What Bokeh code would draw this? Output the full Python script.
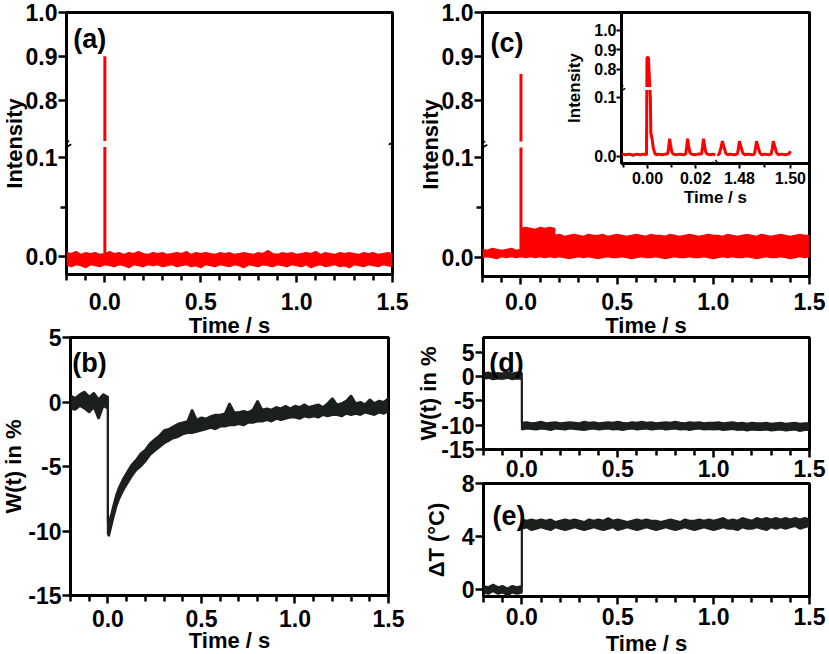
import numpy as np
from bokeh.plotting import figure
from bokeh.models import (Range1d, FixedTicker, Label, PrintfTickFormatter,
                          CustomJSTickFormatter)
from bokeh.layouts import column
from bokeh.embed import file_html
from bokeh.resources import INLINE

FONT = "Liberation Sans"
RED = "#ff0000"
INK = "#1b201d"

# ---------------------------------------------------------------- data
# (a) emission intensity, single pulse: noise envelope and the pulse itself
time_a = [
    -0.200, -0.175, -0.150, -0.125, -0.100, -0.075, -0.050, -0.025, 0.000, 0.025,
    0.050, 0.075, 0.100, 0.125, 0.150, 0.175, 0.200, 0.225, 0.250, 0.275,
    0.300, 0.325, 0.350, 0.375, 0.400, 0.425, 0.450, 0.475, 0.500, 0.525,
    0.550, 0.575, 0.600, 0.625, 0.650, 0.675, 0.700, 0.725, 0.750, 0.775,
    0.800, 0.825, 0.850, 0.875, 0.900, 0.925, 0.950, 0.975, 1.000, 1.025,
    1.050, 1.075, 1.100, 1.125, 1.150, 1.175, 1.200, 1.225, 1.250, 1.275,
    1.300, 1.325, 1.350, 1.375, 1.400, 1.425, 1.450, 1.475, 1.500,
]
int_a_hi = [
    0.004, 0.003, 0.005, 0.002, 0.004, 0.003, 0.004, 0.002, 0.003, 0.005,
    0.003, 0.004, 0.002, 0.004, 0.003, 0.005, 0.003, 0.002, 0.004, 0.003,
    0.004, 0.002, 0.003, 0.004, 0.003, 0.005, 0.002, 0.004, 0.003, 0.004,
    0.003, 0.002, 0.004, 0.003, 0.004, 0.002, 0.003, 0.004, 0.003, 0.002,
    0.004, 0.003, 0.006, 0.003, 0.002, 0.004, 0.003, 0.004, 0.002, 0.003,
    0.004, 0.003, 0.005, 0.002, 0.004, 0.003, 0.002, 0.004, 0.003, 0.004,
    0.003, 0.002, 0.004, 0.003, 0.004, 0.002, 0.003, 0.004, 0.003,
]
int_a_lo = [
    -0.008, -0.010, -0.008, -0.009, -0.011, -0.008, -0.009, -0.010, -0.008, -0.009,
    -0.010, -0.008, -0.009, -0.011, -0.008, -0.009, -0.010, -0.008, -0.009, -0.008,
    -0.010, -0.009, -0.008, -0.010, -0.009, -0.008, -0.010, -0.009, -0.011, -0.008,
    -0.009, -0.010, -0.008, -0.009, -0.010, -0.008, -0.009, -0.011, -0.008, -0.009,
    -0.010, -0.008, -0.009, -0.010, -0.008, -0.009, -0.010, -0.008, -0.009, -0.010,
    -0.008, -0.011, -0.009, -0.008, -0.010, -0.009, -0.008, -0.010, -0.009, -0.011,
    -0.008, -0.009, -0.010, -0.008, -0.009, -0.010, -0.008, -0.009, -0.010,
]
pulse_a_t = [0.0, 0.0]
pulse_a_y = [0.003, 0.90]

# (c) emission intensity, pulse train: envelope before, during and after the burst
time_c = [
    -0.200, -0.175, -0.150, -0.125, -0.100, -0.075, -0.050, -0.025, 0.000,
    0.000, 0.025, 0.050, 0.075, 0.100, 0.125, 0.150, 0.175,
    0.175, 0.200, 0.225, 0.250, 0.275,
    0.300, 0.325, 0.350, 0.375, 0.400, 0.425, 0.450, 0.475, 0.500, 0.525, 0.550, 0.575,
    0.600, 0.625, 0.650, 0.675, 0.700, 0.725, 0.750, 0.775, 0.800, 0.825, 0.850, 0.875,
    0.900, 0.925, 0.950, 0.975, 1.000, 1.025, 1.050, 1.075, 1.100, 1.125, 1.150, 1.175,
    1.200, 1.225, 1.250, 1.275, 1.300, 1.325, 1.350, 1.375, 1.400, 1.425, 1.450, 1.475,
    1.500,
]
int_c_hi = [
    0.008, 0.007, 0.009, 0.008, 0.007, 0.008, 0.009, 0.007, 0.008,
    0.029, 0.030, 0.029, 0.028, 0.030, 0.029, 0.030, 0.029,
    0.022, 0.023, 0.021, 0.022, 0.023,
    0.022, 0.021, 0.023, 0.022, 0.022, 0.023, 0.021, 0.022, 0.023, 0.022, 0.021, 0.022,
    0.023, 0.022, 0.021, 0.023, 0.022, 0.022, 0.021, 0.023, 0.022, 0.021, 0.022, 0.023,
    0.022, 0.021, 0.022, 0.023, 0.022, 0.022, 0.021, 0.023, 0.022, 0.021, 0.022, 0.023,
    0.022, 0.021, 0.023, 0.022, 0.021, 0.022, 0.023, 0.022, 0.021, 0.022, 0.023, 0.022,
    0.022,
]
int_c_lo = [
    0.000, 0.001, 0.000, -0.001, 0.001, 0.000, 0.001, 0.000, 0.001,
    0.001, 0.000, 0.001, 0.000, 0.001, 0.000, 0.001, 0.000,
    0.000, 0.001, 0.000, -0.001, 0.000,
    0.001, 0.000, 0.001, 0.000, -0.001, 0.000, 0.001, 0.000, 0.000, 0.001, 0.000, -0.001,
    0.000, 0.001, 0.000, 0.000, 0.001, 0.000, -0.001, 0.000, 0.001, 0.000, 0.000, 0.001,
    0.000, 0.000, 0.001, 0.000, -0.001, 0.000, 0.001, 0.000, 0.001, 0.000, 0.000, 0.001,
    0.000, -0.001, 0.000, 0.001, 0.000, 0.000, 0.001, 0.000, -0.001, 0.000, 0.001, 0.000,
    0.001,
]
pulse_c_t = [0.0, 0.0]
pulse_c_y = [0.008, 0.86]

# inset of (c): first and last milliseconds of the train
inset_t_start = [
    -0.0105, -0.0090, -0.0075, -0.0060, -0.0045, -0.0030, -0.0015, -0.0004, -0.0002, 0.0004,
    0.0012, 0.0014, 0.0019, 0.0024, 0.0030, 0.0036, 0.0045, 0.0060, 0.0075, 0.0084,
    0.0088, 0.0092, 0.0096, 0.0101, 0.0107, 0.0120, 0.0135, 0.0150, 0.0159, 0.0163,
    0.0167, 0.0171, 0.0176, 0.0182, 0.0195, 0.0210, 0.0225, 0.0229, 0.0233, 0.0237,
    0.0242, 0.0248, 0.0260, 0.0272, 0.0282,
]
inset_y_start = [
    0.004, 0.003, 0.004, 0.002, 0.004, 0.003, 0.004, 0.003, 0.860, 0.860,
    0.100, 0.040, 0.030, 0.015, 0.006, 0.003, 0.004, 0.003, 0.004, 0.004,
    0.015, 0.030, 0.020, 0.008, 0.004, 0.003, 0.004, 0.003, 0.004, 0.016,
    0.030, 0.019, 0.007, 0.004, 0.003, 0.004, 0.004, 0.016, 0.030, 0.020,
    0.008, 0.004, 0.003, 0.004, 0.003,
]
inset_t_end = [
    1.4713, 1.4720, 1.4727, 1.4733, 1.4739, 1.4746, 1.4753, 1.4765, 1.4780, 1.4792,
    1.4796, 1.4800, 1.4806, 1.4813, 1.4820, 1.4835, 1.4850, 1.4859, 1.4863, 1.4867,
    1.4873, 1.4880, 1.4887, 1.4900, 1.4915, 1.4925, 1.4929, 1.4933, 1.4939, 1.4946,
    1.4953, 1.4965, 1.4980, 1.4992, 1.4997, 1.5000,
]
inset_y_end = [
    0.004, 0.003, 0.014, 0.026, 0.016, 0.006, 0.003, 0.004, 0.003, 0.004,
    0.014, 0.026, 0.016, 0.006, 0.003, 0.004, 0.003, 0.004, 0.014, 0.026,
    0.016, 0.006, 0.003, 0.004, 0.003, 0.004, 0.014, 0.026, 0.016, 0.006,
    0.003, 0.004, 0.003, 0.004, 0.006, 0.009,
]

# (b) W(t) after a single pulse: upper / lower edge of the noisy trace
time_b = [
    -0.200, -0.175, -0.150, -0.125, -0.100, -0.075, -0.050, -0.025, 0.000,
    0.000, 0.005, 0.010, 0.020, 0.030, 0.045, 0.060, 0.080,
    0.100, 0.125, 0.150, 0.175, 0.200, 0.225, 0.250, 0.275, 0.300, 0.325, 0.350, 0.375,
    0.400, 0.425, 0.450, 0.475, 0.500, 0.525, 0.550, 0.575, 0.600, 0.625, 0.650, 0.675,
    0.700, 0.725, 0.750, 0.775, 0.800, 0.825, 0.850, 0.875, 0.900, 0.925, 0.950, 0.975,
    1.000, 1.025, 1.050, 1.075, 1.100, 1.125, 1.150, 1.175, 1.200, 1.225, 1.250, 1.275,
    1.300, 1.325, 1.350, 1.375, 1.400, 1.425, 1.450, 1.475, 1.500,
]
w_b_hi = [
    0.5, 0.3, 0.6, 0.8, 0.4, 0.7, 0.2, 0.6, 0.4,
    -9.3, -9.5, -9.1, -8.6, -8.0, -7.2, -6.6, -6.0,
    -5.5, -4.9, -4.5, -4.0, -3.7, -3.2, -2.9, -2.6, -2.2, -2.1, -1.9, -1.7,
    -1.6, -1.5, -0.6, -1.4, -1.2, -1.3, -1.1, -1.0, -1.0, -0.9, -0.1, -0.8,
    -0.8, -0.7, -0.8, -0.6, 0.1, -0.6, -0.5, -0.6, -0.4, -0.5, -0.3, -0.5,
    -0.3, -0.4, -0.2, -0.4, -0.3, -0.2, -0.4, -0.1, 0.3, -0.2, -0.1, 0.1,
    0.5, -0.1, 0.0, -0.2, 0.2, -0.1, 0.1, 0.0, 0.3,
]
w_b_lo = [
    -0.5, -0.6, -0.3, -0.5, -0.8, -0.4, -1.3, -0.3, -0.5,
    -10.2, -10.4, -10.1, -9.5, -8.9, -8.1, -7.5, -6.9,
    -6.4, -5.8, -5.3, -5.0, -4.6, -4.1, -3.8, -3.5, -3.2, -3.0, -2.8, -2.7,
    -2.5, -2.4, -2.4, -2.3, -2.2, -2.1, -2.0, -2.1, -1.9, -1.9, -1.8, -1.8,
    -1.7, -1.8, -1.6, -1.6, -1.5, -1.5, -1.4, -1.5, -1.3, -1.4, -1.3, -1.2,
    -1.2, -1.3, -1.1, -1.2, -1.1, -1.2, -1.0, -1.1, -1.0, -1.0, -1.1, -0.9,
    -1.0, -0.9, -1.0, -0.8, -0.9, -1.0, -0.8, -0.9, -0.7,
]

# (d) W(t) and (e) temperature rise during the pulse train (shared sample times)
time_de = [
    -0.200, -0.175, -0.150, -0.125, -0.100, -0.075, -0.050, -0.025, 0.000,
    0.000, 0.025, 0.050, 0.075, 0.100, 0.125, 0.150, 0.175, 0.200, 0.225, 0.250, 0.275,
    0.300, 0.325, 0.350, 0.375, 0.400, 0.425, 0.450, 0.475, 0.500, 0.525, 0.550, 0.575,
    0.600, 0.625, 0.650, 0.675, 0.700, 0.725, 0.750, 0.775, 0.800, 0.825, 0.850, 0.875,
    0.900, 0.925, 0.950, 0.975, 1.000, 1.025, 1.050, 1.075, 1.100, 1.125, 1.150, 1.175,
    1.200, 1.225, 1.250, 1.275, 1.300, 1.325, 1.350, 1.375, 1.400, 1.425, 1.450, 1.475,
    1.500,
]
w_d_hi = [
    0.6, 0.8, 0.5, 0.7, 0.6, 0.9, 0.6, 0.8, 0.7,
    -9.5, -9.4, -9.6, -9.5, -9.3, -9.6, -9.5, -9.4, -9.6, -9.5, -9.4, -9.5,
    -9.6, -9.3, -9.5, -9.4, -9.6, -9.5, -9.4, -9.5, -9.3, -9.5, -9.6, -9.4,
    -9.5, -9.3, -9.5, -9.4, -9.6, -9.5, -9.4, -9.5, -9.3, -9.5, -9.6, -9.4,
    -9.5, -9.4, -9.6, -9.5, -9.5, -9.4, -9.6, -9.5, -9.4, -9.6, -9.5, -9.7,
    -9.5, -9.6, -9.6, -9.5, -9.7, -9.6, -9.5, -9.7, -9.6, -9.5, -9.7, -9.6,
    -9.6,
]
w_d_lo = [
    -0.5, -0.3, -0.6, -0.4, -0.5, -0.3, -0.6, -0.4, -0.5,
    -10.9, -10.7, -10.8, -10.9, -10.7, -10.8, -11.0, -10.7, -10.8, -10.9, -10.7, -10.8,
    -10.9, -11.0, -10.8, -10.7, -10.9, -10.8, -10.7, -10.9, -10.8, -11.0, -10.8, -10.7,
    -10.9, -10.8, -10.7, -10.9, -10.8, -10.7, -10.9, -10.8, -10.7, -10.9, -10.8, -11.0,
    -10.8, -10.7, -10.9, -10.8, -10.9, -10.8, -11.0, -10.9, -10.8, -11.0, -10.9, -11.1,
    -10.9, -11.0, -11.0, -10.9, -11.1, -11.0, -10.9, -11.1, -11.0, -10.9, -11.2, -11.0,
    -11.0,
]
dT_e_hi = [
    0.3, 0.2, 0.4, 0.2, 0.3, 0.1, 0.3, 0.2, 0.3,
    5.3, 5.2, 5.3, 5.2, 5.3, 5.2, 5.3, 5.1, 5.2, 5.3, 5.2, 5.3,
    5.2, 5.1, 5.3, 5.2, 5.3, 5.2, 5.4, 5.2, 5.3, 5.2, 5.1, 5.2,
    5.3, 5.2, 5.3, 5.2, 5.2, 5.1, 5.2, 5.3, 5.2, 5.1, 5.3, 5.2,
    5.2, 5.3, 5.2, 5.3, 5.2, 5.3, 5.4, 5.2, 5.3, 5.2, 5.4, 5.3,
    5.2, 5.4, 5.3, 5.4, 5.3, 5.4, 5.3, 5.4, 5.3, 5.4, 5.3, 5.4,
    5.3,
]
dT_e_lo = [
    -0.2, -0.3, -0.1, -0.3, -0.2, -0.4, -0.2, -0.3, -0.2,
    4.6, 4.7, 4.5, 4.6, 4.7, 4.6, 4.5, 4.7, 4.6, 4.5, 4.6, 4.7,
    4.6, 4.5, 4.6, 4.7, 4.6, 4.5, 4.6, 4.7, 4.5, 4.6, 4.7, 4.6,
    4.5, 4.6, 4.7, 4.6, 4.5, 4.6, 4.7, 4.6, 4.5, 4.6, 4.7, 4.6,
    4.5, 4.6, 4.7, 4.6, 4.5, 4.6, 4.7, 4.6, 4.6, 4.5, 4.7, 4.6,
    4.6, 4.7, 4.6, 4.5, 4.7, 4.6, 4.7, 4.6, 4.7, 4.8, 4.6, 4.7,
    4.8,
]

# ticks
time_ticks = [0.0, 0.5, 1.0, 1.5]
time_minor = [-0.2, -0.1, 0.1, 0.2, 0.3, 0.4, 0.6, 0.7, 0.8, 0.9, 1.1, 1.2, 1.3, 1.4]
int_ticks = [0.0, 0.1, 0.8, 0.9, 1.0]
int_tick_labels = ["0.0", "0.1", "0.8", "0.9", "1.0"]
int_minor = [0.05]
inset_time_ticks = [0.00, 0.02, 1.48, 1.50]
inset_time_labels = ["0.00", "0.02", "1.48", "1.50"]
inset_time_minor = [-0.01, 0.01, 1.49]
w_ticks = [-15, -10, -5, 0, 5]
dT_ticks = [0, 4, 8]


# ---------------------------------------------------------------- helpers
class Broken:
    """Axis with one break: the `lower` span fills the first `frac` of the
    unit interval, the `upper` span the rest."""

    def __init__(self, lower, upper, frac):
        self.lower, self.upper, self.frac = lower, upper, frac

    def __call__(self, v):
        v = np.asarray(v, dtype=float)
        a, b = self.lower
        c, d = self.upper
        low = (v - a) / (b - a) * self.frac
        high = self.frac + (v - c) / (d - c) * (1.0 - self.frac)
        return np.where(v <= b, low, high)


def cut_at_break(x, y, level, gap):
    """Open a small gap wherever the polyline crosses the break level."""
    xs, ys = [x[0]], [y[0]]
    for i in range(1, len(x)):
        x0, y0, x1, y1 = x[i - 1], y[i - 1], x[i], y[i]
        if (y0 - level) * (y1 - level) < 0:
            s = 1.0 if y1 > y0 else -1.0
            ya, yb = level - s * gap, level + s * gap
            xa = x0 + (x1 - x0) * (ya - y0) / (y1 - y0)
            xb = x0 + (x1 - x0) * (yb - y0) / (y1 - y0)
            xs += [xa, np.nan, xb]
            ys += [ya, np.nan, yb]
        xs.append(x1)
        ys.append(y1)
    return np.array(xs, dtype=float), np.array(ys, dtype=float)


def make_panel(frame_left, frame_top, frame_w, frame_h, x_range, y_range,
               pad_l=130, pad_t=12, pad_r=40, pad_b=110):
    # the frame size is fixed; the transparent borders around it only hold the axes
    p = figure(frame_width=frame_w, frame_height=frame_h,
               x_range=x_range, y_range=y_range, title=None,
               min_border_left=pad_l, min_border_right=pad_r,
               min_border_top=pad_t, min_border_bottom=pad_b,
               output_backend="svg", toolbar_location=None,
               styles={"position": "absolute",
                       "left": f"{frame_left - pad_l}px",
                       "top": f"{frame_top - pad_t}px"})
    p.border_fill_color = None
    p.background_fill_color = "white"
    p.outline_line_color = "black"
    p.outline_line_width = 3
    p.xgrid.visible = False
    p.ygrid.visible = False
    return p


def style_axis(ax, tick_px=23, label_px=22, tick_out=8, minor_out=6, tick_w=2.5,
               label_standoff=2, axis_standoff=3):
    ax.axis_line_color = None
    ax.major_tick_in = 0
    ax.major_tick_out = tick_out
    ax.minor_tick_in = 0
    ax.minor_tick_out = minor_out
    ax.major_tick_line_width = tick_w
    ax.minor_tick_line_width = tick_w
    ax.major_tick_line_color = "black"
    ax.minor_tick_line_color = "black"
    ax.major_label_text_font = FONT
    ax.major_label_text_font_style = "bold"
    ax.major_label_text_font_size = f"{tick_px}px"
    ax.major_label_text_color = "black"
    ax.major_label_standoff = label_standoff
    ax.axis_label_text_font = FONT
    ax.axis_label_text_font_style = "bold"
    ax.axis_label_text_font_size = f"{label_px}px"
    ax.axis_label_text_color = "black"
    ax.axis_label_standoff = axis_standoff


def time_axis(p, label=None, label_standoff=6, axis_standoff=1):
    ax = p.xaxis[0]
    ax.ticker = FixedTicker(ticks=time_ticks, minor_ticks=time_minor)
    ax.formatter = PrintfTickFormatter(format="%.1f")
    style_axis(ax, label_standoff=label_standoff, axis_standoff=axis_standoff)
    if label:
        ax.axis_label = label


def plain_y_axis(p, ticks, label, axis_standoff=3):
    ax = p.yaxis[0]
    ax.ticker = FixedTicker(ticks=ticks)
    ax.formatter = PrintfTickFormatter(format="%d")
    style_axis(ax, label_standoff=1, axis_standoff=axis_standoff)
    ax.axis_label = label


def broken_axis(ax, scale, ticks, labels, minor=()):
    """Ticks of a broken axis sit at mapped positions and carry the data labels."""
    pos = [float(v) for v in scale(ticks)]
    ax.ticker = FixedTicker(ticks=pos,
                            minor_ticks=[float(v) for v in scale(list(minor))] if minor else [])
    ax.formatter = CustomJSTickFormatter(args=dict(pos=pos, labels=list(labels)), code="""
        let best = 0;
        for (let i = 1; i < pos.length; i++) {
            if (Math.abs(pos[i] - tick) < Math.abs(pos[best] - tick)) best = i;
        }
        return labels[best];
    """)


def break_mark(p, x, y, angle, size="15px"):
    p.add_layout(Label(x=x, y=y, text="=", angle=angle, text_align="center",
                       text_baseline="middle", text_font=FONT, text_font_style="bold",
                       text_font_size=size, text_color="black"))


def panel_tag(p, x, y, text):
    p.add_layout(Label(x=x, y=y, text=text, text_align="left", text_baseline="alphabetic",
                       text_font=FONT, text_font_style="bold", text_font_size="27px",
                       text_color="black"))


def band(p, t, hi, lo, color, ymap=None, edge=1.6):
    yh = ymap(hi) if ymap else np.asarray(hi, dtype=float)
    yl = ymap(lo) if ymap else np.asarray(lo, dtype=float)
    x = np.asarray(t, dtype=float)
    p.varea(x=x, y1=yl, y2=yh, fill_color=color)
    p.line(x, yh, line_color=color, line_width=edge)
    p.line(x, yl, line_color=color, line_width=edge)


# ---------------------------------------------------------------- (a)
ya = Broken((-0.018, 0.1135), (0.70, 1.0), 0.498)
pa = make_panel(66, 12, 326, 262, Range1d(-0.2, 1.5), Range1d(0, 1))
band(pa, time_a, int_a_hi, int_a_lo, RED, ya)
sx, sy = cut_at_break(pulse_a_t, ya(pulse_a_y), ya.frac, 3.0 / 262)
pa.line(sx, sy, line_color=RED, line_width=3)
time_axis(pa, "Time / s", label_standoff=10, axis_standoff=0)
style_axis(pa.yaxis[0], label_standoff=1, axis_standoff=-4)
broken_axis(pa.yaxis[0], ya, int_ticks, int_tick_labels, int_minor)
pa.yaxis[0].axis_label = "Intensity"
break_mark(pa, -0.2, ya.frac, 0.55)
break_mark(pa, 1.5, ya.frac, 0.55)
panel_tag(pa, -0.165, 0.90, "(a)")

# ---------------------------------------------------------------- (c)
yc = Broken((-0.019, 0.113), (0.70, 1.0), 0.5)
pc = make_panel(482, 12, 327, 264, Range1d(-0.2, 1.5), Range1d(0, 1))
band(pc, time_c, int_c_hi, int_c_lo, RED, yc)
sx, sy = cut_at_break(pulse_c_t, yc(pulse_c_y), yc.frac, 3.0 / 264)
pc.line(sx, sy, line_color=RED, line_width=3)
time_axis(pc, "Time / s", label_standoff=8, axis_standoff=0)
style_axis(pc.yaxis[0], label_standoff=1, axis_standoff=-4)
broken_axis(pc.yaxis[0], yc, int_ticks, int_tick_labels, int_minor)
pc.yaxis[0].axis_label = "Intensity"
break_mark(pc, -0.2, yc.frac, 0.55)
break_mark(pc, 1.5, yc.frac, 0.55)
panel_tag(pc, -0.158, 0.886, "(c)")

# inset of (c)
xi = Broken((-0.0108, 0.0283), (1.4706, 1.5075), 0.5)
yi = Broken((-0.0119, 0.1153), (0.70, 1.092), 0.497)
pi = make_panel(621, 12, 188, 151, Range1d(0, 1), Range1d(0, 1),
                pad_l=130, pad_t=12, pad_r=40, pad_b=90)
sx, sy = cut_at_break(list(xi(inset_t_start)), list(yi(inset_y_start)), yi.frac, 1.5 / 151)
pi.line(sx, sy, line_color=RED, line_width=3)
pi.line(xi(inset_t_end), yi(inset_y_end), line_color=RED, line_width=3)
style_axis(pi.xaxis[0], tick_px=16, label_px=17, tick_out=5, minor_out=4, tick_w=2,
           label_standoff=3, axis_standoff=1)
broken_axis(pi.xaxis[0], xi, inset_time_ticks, inset_time_labels, inset_time_minor)
pi.xaxis[0].axis_label = "Time / s"
style_axis(pi.yaxis[0], tick_px=16, label_px=17, tick_out=5, minor_out=4, tick_w=2,
           label_standoff=0, axis_standoff=7)
broken_axis(pi.yaxis[0], yi, int_ticks, int_tick_labels)
pi.yaxis[0].axis_label = "Intensity"
break_mark(pi, 0.0, yi.frac, 0.55, "13px")
break_mark(pi, xi.frac, 0.0, 0.55 + np.pi / 2, "13px")

# ---------------------------------------------------------------- (b)
pb = make_panel(70, 337, 318, 258, Range1d(-0.2, 1.5), Range1d(-15, 5))
band(pb, time_b, w_b_hi, w_b_lo, INK, edge=2.2)
time_axis(pb, "Time / s", label_standoff=6, axis_standoff=-2)
plain_y_axis(pb, w_ticks, "W(t) in %", axis_standoff=-1)
panel_tag(pb, -0.19, 3.0, "(b)")

# ---------------------------------------------------------------- (d)
pd_ = make_panel(483, 337, 326, 112, Range1d(-0.2, 1.5), Range1d(-15, 8))
band(pd_, time_de, w_d_hi, w_d_lo, INK, edge=2.0)
time_axis(pd_, label_standoff=2)
plain_y_axis(pd_, w_ticks, "W(t) in %", axis_standoff=-3)
panel_tag(pd_, -0.17, 2.7, "(d)")

# ---------------------------------------------------------------- (e)
pe = make_panel(483, 483, 326, 113, Range1d(-0.2, 1.5), Range1d(-0.5, 8))
band(pe, time_de, dT_e_hi, dT_e_lo, INK, edge=2.0)
time_axis(pe, "Time / s", label_standoff=3, axis_standoff=3)
plain_y_axis(pe, dT_ticks, "ΔT (°C)", axis_standoff=10)
panel_tag(pe, -0.153, 5.55, "(e)")

root = column(pa, pc, pi, pb, pd_, pe, width=829, height=654,
              styles={"position": "relative", "overflow": "hidden"})

with open("out.html", "w") as f:
    f.write(file_html(root, INLINE, title="Intensity and W(t) traces"))
